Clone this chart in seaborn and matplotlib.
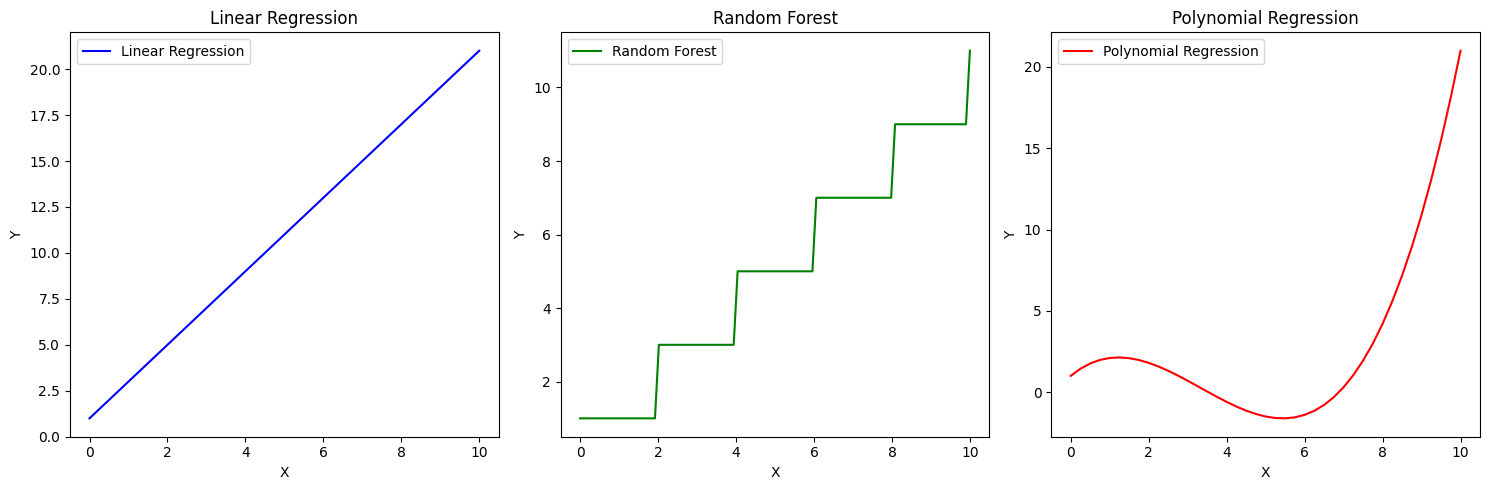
import numpy as np
import matplotlib
matplotlib.use("Agg")
import matplotlib.pyplot as plt
import seaborn as sns

# Linear regression: two end points of the fitted line
lin_x = [0, 10]
lin_y = [1, 21]

# Random forest: step prediction (corners)
rf_x = [0, 1.92, 2.02, 3.94, 4.04, 5.96, 6.06, 7.98, 8.08, 9.90, 10.0]
rf_y = [1, 1, 3, 3, 5, 5, 7, 7, 9, 9, 11]

# Polynomial regression: curve values read every 0.25 on x
poly_x = np.arange(0, 10.01, 0.25)
poly_y = [1.0, 1.439, 1.763, 1.980, 2.1, 2.133, 2.088, 1.973, 1.8, 1.577,
          1.313, 1.017, 0.7, 0.370, 0.038, -0.289, -0.6, -0.886, -1.138, -1.345,
          -1.5, -1.592, -1.613, -1.552, -1.4, -1.148, -0.788, -0.308, 0.3, 1.045,
          1.938, 2.986, 4.2, 5.589, 7.163, 8.930, 10.9, 13.083, 15.488, 18.123, 21.0]

panels = [
    ("Linear Regression", lin_x, lin_y, "blue"),
    ("Random Forest", rf_x, rf_y, "green"),
    ("Polynomial Regression", poly_x, poly_y, "red"),
]

fig, axes = plt.subplots(1, 3, figsize=(15, 5), dpi=100)

for ax, (name, x, y, color) in zip(axes, panels):
    sns.lineplot(x=x, y=y, ax=ax, color=color, label=name, sort=False)
    ax.set_title(name)
    ax.set_xlabel("X")
    ax.set_ylabel("Y")
    ax.legend(loc="upper left")

plt.tight_layout()
plt.savefig("out.png", dpi=100, bbox_inches="tight")
